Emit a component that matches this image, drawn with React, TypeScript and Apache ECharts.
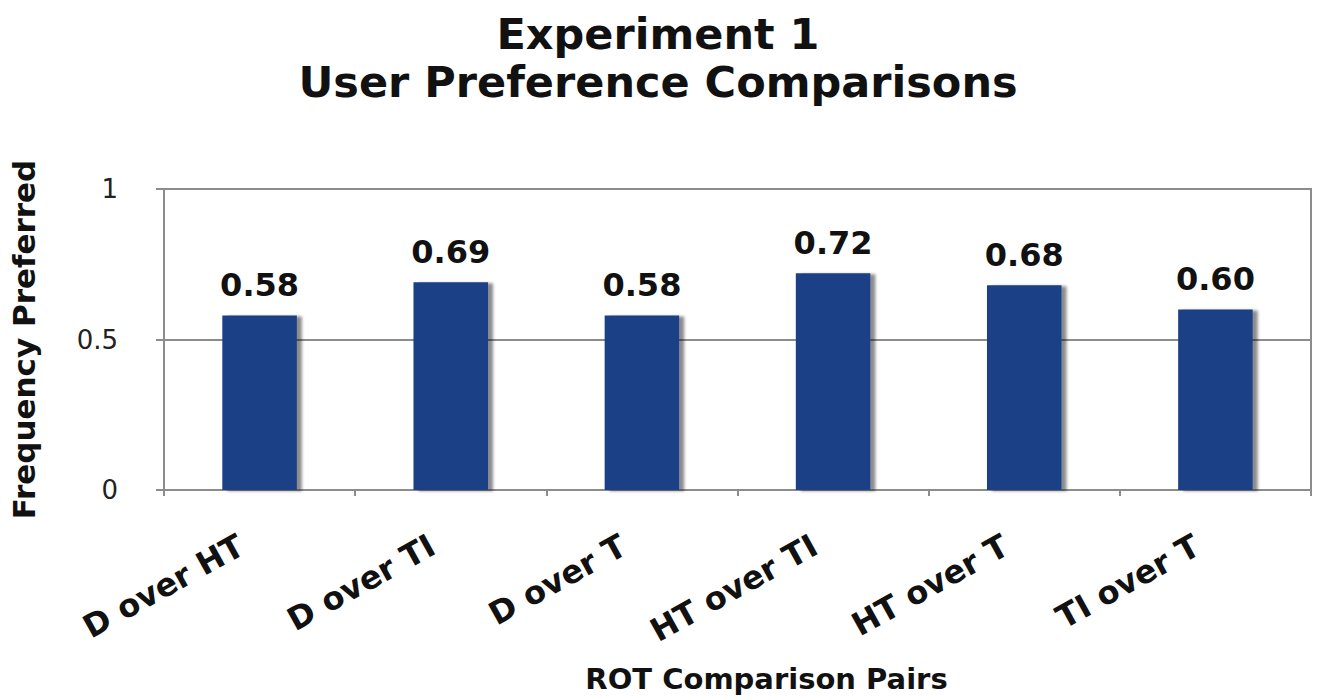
import React, { useEffect, useRef } from "react";
import * as echarts from "echarts";

const categories = ["D over HT", "D over TI", "D over T", "HT over TI", "HT over T", "TI over T"];
const values = [0.58, 0.69, 0.58, 0.72, 0.68, 0.6];
const yTicks = [0, 0.5, 1];
const titleLines = ["Experiment 1", "User Preference Comparisons"];

export default function App() {
  const ref = useRef<HTMLDivElement>(null);
  useEffect(() => {
    document.body.style.margin = "0";
    const chart = echarts.init(ref.current!, undefined, { renderer: "svg" });
    const font = "Verdana, 'DejaVu Sans', sans-serif";
    const titleStyle = { fontFamily: font, fontWeight: "bold", fontSize: 43, color: "#111" };
    chart.setOption({
      animation: false,
      backgroundColor: "#ffffff",
      title: [
        { text: titleLines[0], left: 653, top: 7, textAlign: "center", textStyle: titleStyle },
        { text: titleLines[1], left: 653, top: 55, textAlign: "center", textStyle: titleStyle },
      ],
      grid: {
        left: 155,
        right: 12,
        top: 189,
        bottom: 210,
        show: true,
        borderColor: "#8c8c8c",
        borderWidth: 2,
        containLabel: false,
      },
      xAxis: {
        type: "category",
        data: categories,
        name: "ROT Comparison Pairs",
        nameLocation: "middle",
        nameGap: 174,
        nameTextStyle: { fontFamily: font, fontWeight: "bold", fontSize: 29, color: "#111", padding: [0, 0, 0, 58] },
        axisLine: { lineStyle: { color: "#8c8c8c", width: 2 } },
        axisTick: { show: true, alignWithLabel: false, length: 6, lineStyle: { color: "#8c8c8c", width: 2 } },
        axisLabel: {
          rotate: 29,
          margin: 43,
          padding: [0, 21, 0, 0],
          fontFamily: font,
          fontWeight: "bold",
          fontSize: 32,
          color: "#111",
          interval: 0,
        },
      },
      yAxis: {
        type: "value",
        min: 0,
        max: 1,
        interval: 0.5,
        name: "Frequency Preferred",
        nameLocation: "middle",
        nameGap: 125,
        nameTextStyle: { fontFamily: font, fontWeight: "bold", fontSize: 31, color: "#111" },
        axisLine: { show: true, lineStyle: { color: "#8c8c8c", width: 2 } },
        axisTick: { show: true, length: 8, lineStyle: { color: "#8c8c8c", width: 2 } },
        axisLabel: {
          margin: 46,
          fontFamily: font,
          fontSize: 26,
          color: "#222",
          formatter: (v: number) => (yTicks.includes(v) ? String(v) : ""),
        },
        splitLine: { show: true, lineStyle: { color: "#8c8c8c", width: 2 } },
      },
      series: [
        {
          type: "bar",
          data: values,
          barWidth: "39%",
          itemStyle: {
            color: "#1c3f86",
            shadowColor: "rgba(0,0,0,0.45)",
            shadowBlur: 3,
            shadowOffsetX: 5,
            shadowOffsetY: 1,
          },
          label: {
            show: true,
            position: "top",
            distance: 14,
            fontFamily: font,
            fontWeight: "bold",
            fontSize: 32,
            color: "#111",
            formatter: (p: any) => p.value.toFixed(2),
          },
        },
      ],
    });
    return () => chart.dispose();
  }, []);
  return <div ref={ref} style={{ width: 1323, height: 700 }} />;
}
